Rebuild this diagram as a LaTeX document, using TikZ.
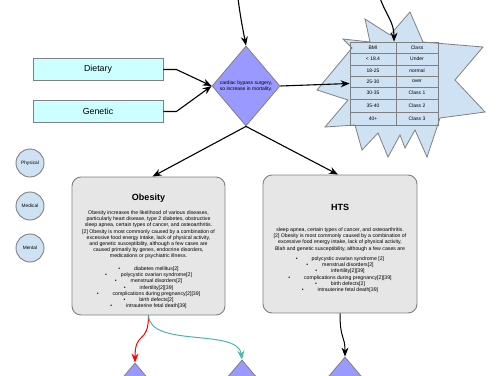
\documentclass[tikz,border=0pt]{standalone}
\usepackage{fontspec}
\setmainfont{Liberation Sans}
\usetikzlibrary{shapes.geometric,arrows.meta}
\definecolor{dfill}{HTML}{9999FF}
\definecolor{gborder}{HTML}{808080}
\definecolor{cfill}{HTML}{CCFFFF}
\definecolor{sfill}{HTML}{CFE2F3}
\definecolor{gfill}{HTML}{E6E6E6}
\definecolor{teal2}{HTML}{4CB5AE}
\begin{document}
\begin{tikzpicture}[x=1pt,y=-1pt,
  dia/.style={diamond, draw=gborder, fill=dfill, minimum width=68pt, minimum height=80pt, inner sep=0pt, align=center, line width=0.8pt, font=\fontsize{5}{6}\selectfont},
  cyanbox/.style={rectangle, draw=gborder, fill=cfill, minimum width=130pt, minimum height=22pt, line width=0.8pt, font=\fontsize{8.8}{10}\selectfont},
  circ/.style={circle, draw=gborder, fill=sfill, minimum size=28pt, inner sep=0pt, line width=0.9pt, font=\fontsize{4.8}{5}\selectfont},
  mainbox/.style={rectangle, rounded corners=9pt, draw=gborder, fill=gfill, line width=0.9pt, inner sep=0pt},
  conn/.style={-{Stealth[length=9pt,width=7pt]}, line width=1.1pt, black},
  body/.style={font=\fontsize{5.2}{6.2}\selectfont, align=center, inner sep=0pt},
  ttl/.style={font=\bfseries\fontsize{9}{10}\selectfont, inner sep=0pt},
  cell/.style={font=\fontsize{5}{5.5}\selectfont, inner sep=0pt}
]
\useasboundingbox (0,0) rectangle (500,375);
\clip (0,0) rectangle (500,375);

% star
\filldraw[draw=gborder, fill=sfill, line width=0.8pt]
  (343,39) -- (352,48) -- (317,90) -- (348,100) -- (325,127) -- (355,125) --
  (362,150) -- (378,133) -- (388,157) -- (400,135) -- (405,148) -- (415,130) --
  (427,157) -- (440,118) -- (485,112) -- (455,80) -- (483,47) -- (423,42) --
  (410,12) -- (390,35) -- (365,19) -- (370,42) -- cycle;

% table
\node[draw=gborder, line width=0.7pt, minimum width=88pt, minimum height=83pt, inner sep=0pt] (tbl) at (394,83.5) {};
\foreach \yy in {53,65,76,87,99,112} \draw[gborder, line width=0.7pt] (350,\yy) -- (438,\yy);
\draw[gborder, line width=0.7pt] (396,42) -- (396,125);
\foreach \yy/\a/\b in {47.5/BMI/Class, 59/< 18.4/Under, 70.5/18-25/normal, 81.5/25-30/over, 93/30-35/Class 1, 105.5/35-40/Class 2, 118.5/40+/Class 3}{
  \node[cell] at (373,\yy) {\a};
  \node[cell] at (417,\yy) {\b};
}

% top diamond and inputs
\node[dia] (dtop) at (246,86) {cardiac bypass surgery,\\so increase in mortality.};
\node[cyanbox] (diet) at (98,69.5) {Dietary};
\node[cyanbox] (gen) at (98,111.5) {Genetic};

% circles
\node[circ] (phys) at (30,163) {Physical};
\node[circ] (med) at (30,206) {Medical};
\node[circ] (ment) at (30,248) {Mental};

% main boxes
\node[mainbox, minimum width=153pt, minimum height=138pt] (obes) at (148.5,246) {};
\node[ttl] (obt) at (148.5,198) {Obesity};
\node[body, anchor=north] (obp) at (148.5,210.5) {Obesity increases the likelihood of various diseases,\\particularly heart disease, type 2 diabetes, obstructive\\sleep apnea, certain types of cancer, and osteoarthritis.\\{[2]} Obesity is most commonly caused by a combination of\\excessive food energy intake, lack of physical activity,\\and genetic susceptibility, although a few cases are\\caused primarily by genes, endocrine disorders,\\medications or psychiatric illness.};
\node[body, anchor=north] (obl) at (148.5,266.5) {\textbullet\hspace{14pt}diabetes mellitus[2]\\\textbullet\hspace{14pt}polycystic ovarian syndrome[2]\\\textbullet\hspace{14pt}menstrual disorders[2]\\\textbullet\hspace{14pt}infertility[2][39]\\\textbullet\hspace{14pt}complications during pregnancy[2][39]\\\textbullet\hspace{14pt}birth defects[2]\\\textbullet\hspace{14pt}intrauterine fetal death[39]};

\node[mainbox, minimum width=154pt, minimum height=138pt] (hts) at (340,244) {};
\node[ttl] (htt) at (340,207) {HTS};
\node[body, anchor=north] (htp) at (340,227.5) {sleep apnea, certain types of cancer, and osteoarthritis.\\{[2]} Obesity is most commonly caused by a combination of\\excessive food energy intake, lack of physical activity,\\Blah and genetic susceptibility, although a few cases are};
\node[body, anchor=north] (htl) at (340,256.5) {\textbullet\hspace{14pt}polycystic ovarian syndrome [2]\\\textbullet\hspace{14pt}menstrual disorders[2]\\\textbullet\hspace{14pt}infertility[2][39]\\\textbullet\hspace{14pt}complications during pregnancy[2][39]\\\textbullet\hspace{14pt}birth defects[2]\\\textbullet\hspace{14pt}intrauterine fetal death[39]};

% bottom diamonds
\node[dia] (b1) at (135,403) {};
\node[dia] (b2) at (242,400) {};
\node[dia] (b3) at (345,397) {};

% connectors
\coordinate (topin) at (238,-2);
\coordinate (starin) at (380,-2);
\draw[conn] (topin) .. controls (240,15) and (243,30) .. (dtop.north);
\draw[conn] (starin) .. controls (386,15) and (394,22) .. (tbl.north);
\draw[conn] (dtop.east) -- (tbl.west);
\draw[conn] (diet.east) -- ++(13,0) -- (dtop.west);
\draw[conn] (gen.east) -- ++(13,0) -- (dtop.west);
\draw[conn] (dtop.south) -- ([xshift=4pt]obes.north);
\draw[conn] (dtop.south) -- ([xshift=-2pt]hts.north);
\draw[-{Stealth[length=9pt,width=7pt]}, line width=1pt, red] (obes.south) .. controls (148.5,345) and (135,330) .. (b1.north);
\draw[-{Stealth[length=9pt,width=7pt]}, line width=1pt, teal2] (obes.south) .. controls (150,348) and (238,328) .. (b2.north);
\draw[conn, line width=1pt] (hts.south) .. controls (340,340) and (345,335) .. (b3.north);
\end{tikzpicture}
\end{document}
